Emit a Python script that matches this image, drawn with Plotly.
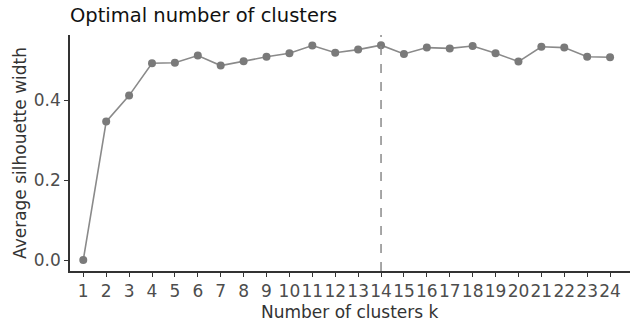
import plotly.graph_objects as go

k_values = list(range(1, 25))
tick_labels = [str(k) for k in k_values]
silhouette = [0.0, 0.346, 0.411, 0.492, 0.493, 0.511, 0.486, 0.497, 0.508, 0.517,
              0.536, 0.518, 0.526, 0.537, 0.515, 0.531, 0.529, 0.535, 0.517, 0.496,
              0.533, 0.531, 0.508, 0.507]
optimal_k = 14
y_ticks = [0.0, 0.2, 0.4]
y_tick_labels = ["0.0", "0.2", "0.4"]

FONT = "DejaVu Sans"

fig = go.Figure()
fig.add_trace(go.Scatter(
    x=k_values, y=silhouette, mode="lines+markers",
    line=dict(color="#8a8a8a", width=1.6),
    marker=dict(color="#7a7a7a", size=8),
    showlegend=False,
))
fig.add_vline(x=optimal_k, line=dict(color="#8a8a8a", width=1.5, dash="dash"))

fig.add_annotation(text="Number of clusters k", xref="paper", yref="paper",
                   x=0.5, y=-0.175, xanchor="center", yanchor="middle",
                   showarrow=False,
                   font=dict(family=FONT, size=17, color="#333333"))

fig.update_layout(
    width=634, height=322,
    margin=dict(l=70, r=4, t=35, b=51),
    paper_bgcolor="white", plot_bgcolor="white",
    title=dict(text="Optimal number of clusters", x=70/634, xanchor="left",
               y=1 - 15/322, yanchor="middle",
               font=dict(family=FONT, size=19.5, color="#111111")),
    xaxis=dict(
        range=[0.42, 24.87], automargin=False,
        tickmode="array", tickvals=k_values, ticktext=tick_labels, tickangle=0,
        showgrid=False, zeroline=False,
        showline=True, linecolor="#333333", linewidth=1.5,
        ticks="outside", ticklen=4, tickcolor="#333333", tickwidth=1.2,
        tickfont=dict(family=FONT, size=17, color="#4d4d4d"),
    ),
    yaxis=dict(
        range=[-0.0275, 0.5625], automargin=False,
        tickmode="array", tickvals=y_ticks, ticktext=y_tick_labels,
        showgrid=False, zeroline=False,
        showline=True, linecolor="#333333", linewidth=1.5,
        ticks="outside", ticklen=4, tickcolor="#333333", tickwidth=1.2,
        tickfont=dict(family=FONT, size=17, color="#4d4d4d"),
        title=dict(text="Average silhouette width", standoff=3,
                   font=dict(family=FONT, size=17, color="#333333")),
    ),
)

fig.write_html("out.html", config={"displayModeBar": False},
               post_script="document.body.style.margin='0';document.body.style.overflow='hidden';")
